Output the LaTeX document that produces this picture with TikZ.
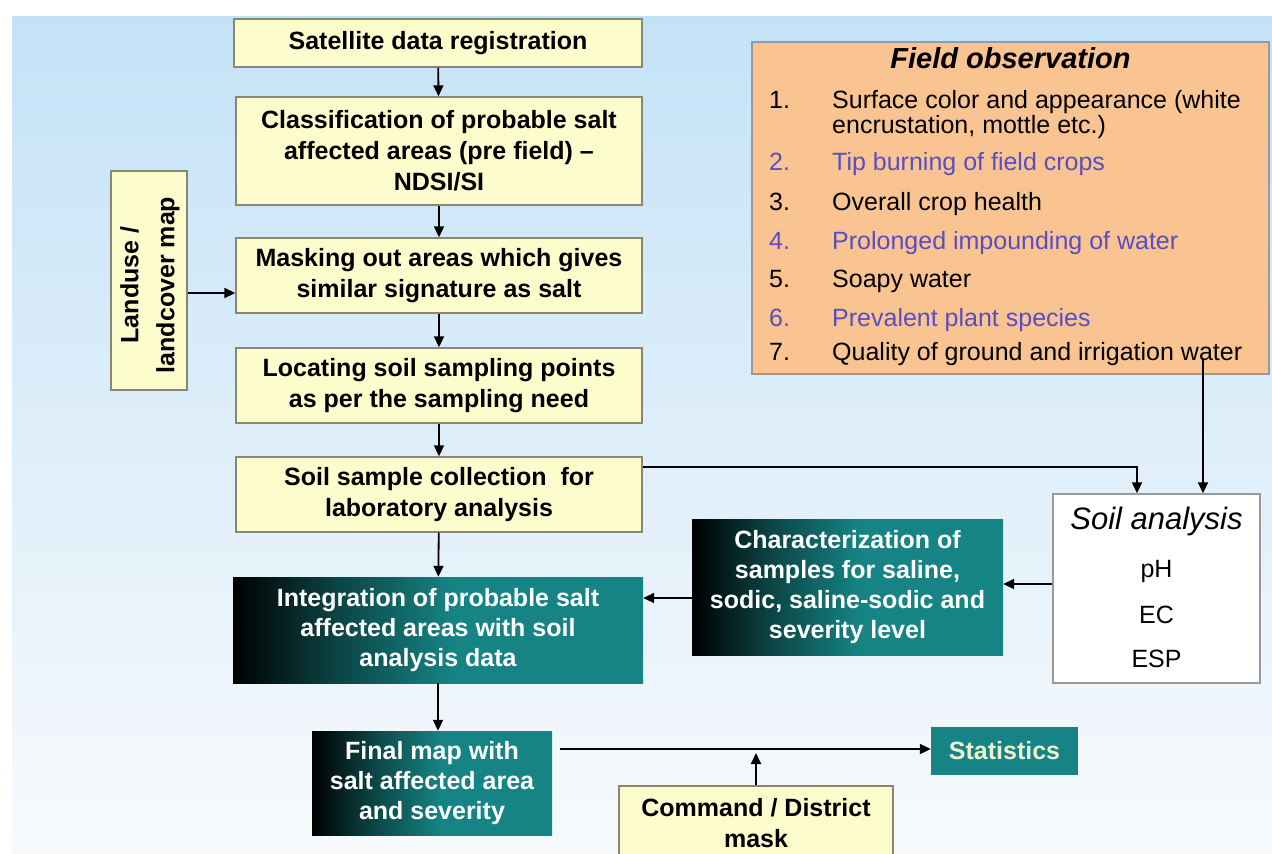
\documentclass[tikz,border=0pt]{standalone}
\usepackage{fontspec}
\setmainfont{Liberation Sans}
\usetikzlibrary{arrows.meta,calc}
\definecolor{bgtop}{RGB}{196,226,247}
\definecolor{bgmid}{RGB}{228,240,250}
\definecolor{bgbot}{RGB}{248,250,252}
\definecolor{yel}{RGB}{253,252,204}
\definecolor{ybord}{RGB}{135,135,115}
\definecolor{peach}{RGB}{250,196,146}
\definecolor{tealc}{RGB}{22,132,132}
\definecolor{tealdark}{RGB}{12,70,70}
\definecolor{listblue}{RGB}{88,78,192}
\definecolor{stattext}{RGB}{238,242,205}
\pgfdeclarehorizontalshading{tealshade}{100bp}{color(0bp)=(black); color(25bp)=(black); color(38bp)=(tealdark); color(52bp)=(tealc); color(100bp)=(tealc)}
\begin{document}
\begin{tikzpicture}[x=1pt,y=-1pt,
  ybox/.style={draw=ybord,fill=yel,line width=1.4pt,align=center,inner sep=0pt,
    font=\fontsize{25}{31}\selectfont\bfseries,text=black},
  tbox/.style={shading=tealshade,align=center,inner sep=0pt,
    font=\fontsize{25}{30}\selectfont\bfseries,text=white},
  arr/.style={-{Triangle[length=11pt,width=10pt]},line width=1.8pt,black},
  litem/.style={anchor=base west,inner sep=0pt,font=\fontsize{25}{25}\selectfont},
  soiltxt/.style={inner sep=0pt,font=\fontsize{25}{26}\selectfont}
]
\useasboundingbox (0,0) rectangle (1272,854);
\clip (0,0) rectangle (1272,854);
\fill[white] (0,0) rectangle (1272,854);
\shade[top color=bgtop,middle color=bgmid,bottom color=bgbot] (12,16) rectangle (1272,854);

% main column
\node[ybox,minimum width=408,minimum height=48] (sat) at (438,43) {Satellite data registration};
\node[ybox,minimum width=406,minimum height=108] (cls) at (439,151) {Classification of probable salt\\affected areas (pre field) --\\NDSI/SI};
\node[ybox,minimum width=406,minimum height=75] (mask) at (439,275.5) {Masking out areas which gives\\similar signature as salt};
\node[ybox,minimum width=406,minimum height=75] (loc) at (439,385.5) {Locating soil sampling points\\as per the sampling need};
\node[ybox,minimum width=406,minimum height=75] (coll) at (439,494.5) {Soil sample collection\ \ for\\laboratory analysis};
\node[ybox,minimum width=76,minimum height=219] (landbox) at (149,280.5) {};
\node[inner sep=0pt,rotate=90,align=center,font=\fontsize{25}{36}\selectfont\bfseries] (land) at (150,285) {Landuse /\\landcover map};

\node[tbox,minimum width=410,minimum height=106] (integ) at (438,630) {Integration of probable salt\\affected areas with soil\\analysis data};
\node[tbox,minimum width=240,minimum height=104] (final) at (432,783) {Final map with\\salt affected area\\and severity};
\node[tbox,minimum width=311,minimum height=136] (char) at (847.5,587) {Characterization of\\samples for saline,\\sodic, saline-sodic and\\severity level};
\node[fill=tealc,inner sep=0pt,minimum width=147,minimum height=48,text=stattext,font=\fontsize{25}{30}\selectfont\bfseries] (stat) at (1004.5,751) {Statistics};
\node[ybox,minimum width=274,minimum height=74] (cmd) at (756,823) {Command / District\\mask};

% soil analysis
\node[draw=gray!80,fill=white,line width=1.4pt,minimum width=207,minimum height=189,inner sep=0pt] (soil) at (1156.5,588.5) {};
\node[inner sep=0pt,font=\fontsize{31}{30}\selectfont\itshape] (soilt) at (1156.5,521) {Soil analysis};
\node[soiltxt] (ph) at (1156.5,571) {pH};
\node[soiltxt] (ec) at (1156.5,615) {EC};
\node[soiltxt] (esp) at (1156.5,659) {ESP};

% field observation
\node[draw=gray!80,fill=peach,line width=1.4pt,minimum width=517,minimum height=332,inner sep=0pt] (field) at (1010.5,208) {};
\node[inner sep=0pt,font=\fontsize{29}{30}\selectfont\bfseries\itshape] (ftitle) at (1010.5,58) {Field observation};
\node[litem] (n1) at (769,108) {1.};
\node[litem] (t1) at (832,108) {Surface color and appearance (white};
\node[litem] (t1b) at (832,133) {encrustation, mottle etc.)};
\node[litem,text=listblue] (n2) at (769,170) {2.};
\node[litem,text=listblue] (t2) at (832,170) {Tip burning of field crops};
\node[litem] (n3) at (769,210) {3.};
\node[litem] (t3) at (832,210) {Overall crop health};
\node[litem,text=listblue] (n4) at (769,249) {4.};
\node[litem,text=listblue] (t4) at (832,249) {Prolonged impounding of water};
\node[litem] (n5) at (769,287) {5.};
\node[litem] (t5) at (832,287) {Soapy water};
\node[litem,text=listblue] (n6) at (769,326) {6.};
\node[litem,text=listblue] (t6) at (832,326) {Prevalent plant species};
\node[litem] (n7) at (769,360) {7.};
\node[litem] (t7) at (832,360) {Quality of ground and irrigation water};

% helper coordinates
\coordinate (lm) at (0,293);
\coordinate (c1) at (1137,467);
\coordinate (c2) at (1203,358);
\coordinate (c3) at (0,584);
\coordinate (c5) at (0,598);
\coordinate (c4) at (0,749);

% connectors
\draw[arr] (sat) -- (cls);
\draw[arr] (cls) -- (mask);
\draw[arr] (mask) -- (loc);
\draw[arr] (loc) -- (coll);
\draw[arr] (coll) -- (integ);
\draw[arr] (integ) -- (integ.south |- final.north);
\draw[arr] (landbox.east |- lm) -- (mask.west |- lm);
\draw[arr] (coll.east |- c1) -| (c1 |- soil.north);
\draw[arr] (c2) -- (c2 |- soil.north);
\draw[arr] (soil.west |- c3) -- (char.east |- c3);
\draw[arr] (char.west |- c5) -- (integ.east |- c5);
\draw[arr,shorten <=8pt] (final.east |- c4) -- (stat.west |- c4);
\draw[arr,shorten >=4pt] (cmd.north) -- (cmd.north |- c4);
\end{tikzpicture}
\end{document}
